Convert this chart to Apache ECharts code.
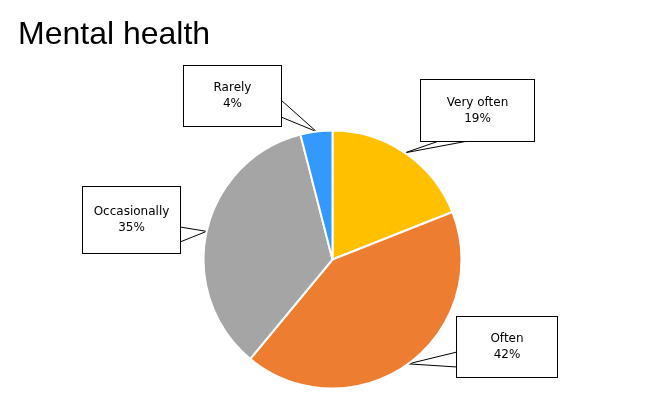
<!DOCTYPE html>
<html><head><meta charset="utf-8">
<script src="https://cdn.jsdelivr.net/npm/echarts@6/dist/echarts.min.js"></script>
<style>html,body{margin:0;padding:0;background:#fff}#c{width:650px;height:400px}</style>
</head><body><div id="c"></div>
<script>
var categories = ['Very often', 'Often', 'Occasionally', 'Rarely'];
var values = [19, 42, 35, 4];
var colors = ['#FFC000', '#ED7D31', '#A5A5A5', '#3399FF'];

// callout box layout (left, top, width, height) and wedge base points
var boxes = [
  {x: 421, y: 80, w: 113, h: 61, base: [[468, 141], [439, 141]]},
  {x: 457, y: 317, w: 100, h: 60, base: [[457, 352], [457, 367]]},
  {x: 83, y: 187, w: 97, h: 66, base: [[180, 227], [180, 242]]},
  {x: 184, y: 66, w: 97, h: 60, base: [[281, 100], [281, 117]]}
];

var chart = echarts.init(document.getElementById('c'));
var data = categories.map(function (n, i) {
  var b = boxes[i];
  return {
    name: n, value: values[i],
    itemStyle: {color: colors[i]},
    label: {width: b.w, padding: [(b.h - 32) / 2, 0, (b.h - 32) / 2, 0]}
  };
});
chart.setOption({
  animation: false,
  title: {
    text: 'Mental health', left: 13, top: 14,
    textStyle: {fontFamily: 'Liberation Sans', fontSize: 32, fontWeight: 'normal', color: '#000'}
  },
  series: [{
    type: 'pie',
    center: [332.5, 259.5],
    radius: 129,
    startAngle: 90,
    clockwise: true,
    data: data,
    itemStyle: {borderColor: '#fff', borderWidth: 2},
    label: {
      show: true, position: 'outside',
      formatter: '{b}\n{c}%',
      fontFamily: 'DejaVu Sans', fontSize: 12, lineHeight: 16, color: '#000',
      backgroundColor: '#fff', borderColor: '#000', borderWidth: 1
    },
    labelLine: {show: true, length: 5, length2: 5, smooth: false, lineStyle: {color: '#000', width: 1}},
    labelLayout: function (p) {
      var b = boxes[p.dataIndex];
      var tip = p.labelLinePoints ? p.labelLinePoints[0] : b.base[0];
      return {
        x: b.x + b.w / 2, y: b.y, align: 'center', verticalAlign: 'top',
        labelLinePoints: [b.base[0], tip, b.base[1]]
      };
    },
    emphasis: {disabled: true}
  }]
});
</script></body></html>
